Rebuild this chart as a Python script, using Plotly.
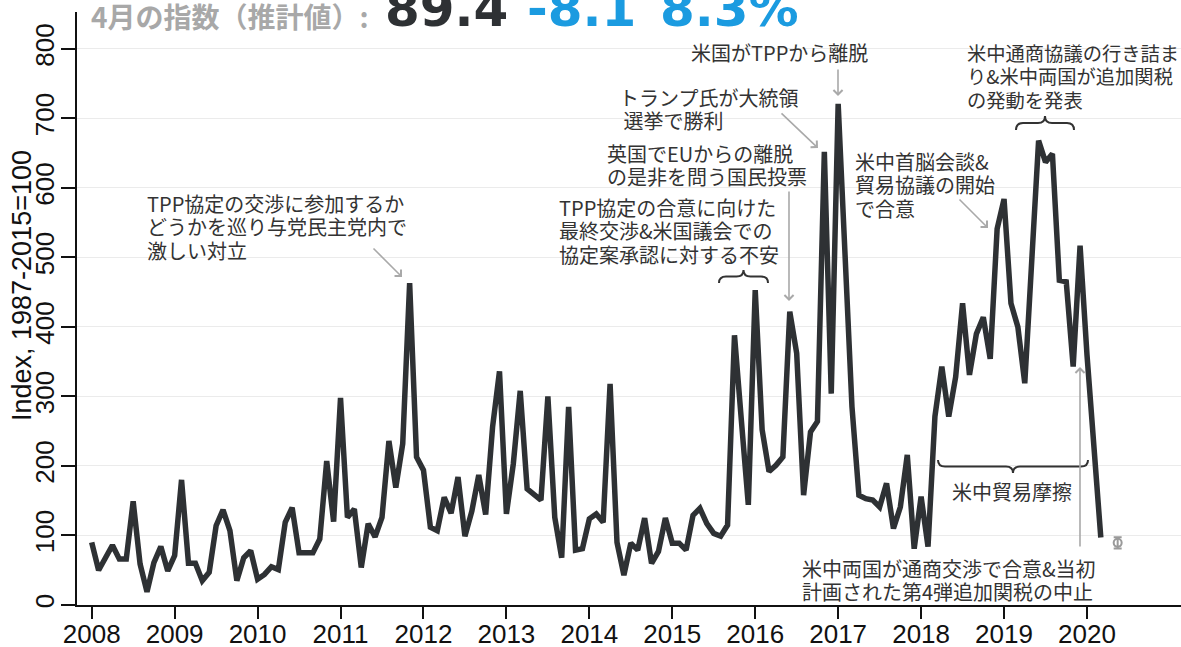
import plotly.graph_objects as go
import pandas as pd

# ---------------- data ----------------
months = pd.date_range("2008-01-01", "2020-03-01", freq="MS")
v2008 = [90, 50, 68, 86, 66, 66, 149, 59, 19, 61, 84, 49]
v2009 = [71, 180, 60, 60, 35, 47, 114, 137, 107, 35, 68, 78]
v2010 = [37, 44, 55, 51, 119, 140, 75, 75, 75, 95, 207, 120]
v2011 = [298, 126, 138, 54, 117, 98, 126, 236, 169, 232, 463, 213]
v2012 = [194, 112, 107, 155, 132, 184, 99, 135, 187, 130, 256, 336]
v2013 = [131, 203, 308, 167, 158, 151, 300, 126, 68, 285, 79, 81]
v2014 = [124, 131, 119, 318, 90, 43, 89, 79, 125, 60, 77, 125]
v2015 = [89, 89, 79, 129, 139, 117, 103, 99, 115, 388, 265, 144]
v2016 = [453, 252, 192, 201, 213, 422, 362, 158, 249, 264, 652, 304]
v2017 = [721, 490, 285, 158, 153, 151, 141, 175, 110, 141, 216, 81]
v2018 = [156, 84, 271, 343, 271, 328, 434, 331, 390, 414, 354, 541]
v2019 = [584, 434, 400, 319, 496, 668, 637, 649, 467, 465, 343, 517]
v2020 = [360, 225, 97]
index_values = v2008 + v2009 + v2010 + v2011 + v2012 + v2013 + v2014 + v2015 + v2016 + v2017 + v2018 + v2019 + v2020

x_years = list(months.year + (months.month - 1) / 12)

est_label = "4月の指数（推計値）:"
est_value = 89.4
est_err = 8.1
est_pct = "8.3%"
est_x = 2020.37

year_ticks = list(range(2008, 2021))
y_ticks = list(range(0, 801, 100))

# ---------------- layout helpers (screen pixel -> data / paper) ----------------
W, H = 1181, 647
ML, MR, MT, MB = 77, 0, 12, 42
PX_2008, PX_PER_YEAR = 91.7, 82.94
Y_TOP = 853.0
PX_PER_UNIT = (H - MT - MB) / Y_TOP
Y0 = H - MB


def xd(px):
    return 2008 + (px - PX_2008) / PX_PER_YEAR


def yd(py):
    return (Y0 - py) / PX_PER_UNIT


def xp(px):
    return (px - ML) / (W - ML - MR)


def yp(py):
    return 1 - (py - MT) / (H - MT - MB)


TXT = "#333333"
ARROW = "#a9a9a9"
FONT_JP = "Noto Sans CJK JP"
FONT_AX = "Liberation Sans, Arial, sans-serif"
FONT_BIG = "DejaVu Sans, sans-serif"
JP_SIZE = 20

fig = go.Figure()
fig.add_trace(go.Scatter(
    x=x_years, y=index_values, mode="lines",
    line=dict(color="#2e3134", width=5.5, shape="linear"),
    hoverinfo="skip", showlegend=False,
))
fig.add_trace(go.Scatter(
    x=[est_x], y=[est_value], mode="markers",
    marker=dict(symbol="circle-open", color="#9a9a9a", size=8, line=dict(width=2)),
    error_y=dict(type="constant", value=est_err, color="#9a9a9a", thickness=2, width=4),
    hoverinfo="skip", showlegend=False,
))

annotations = []


def text_lines(lines, px, py_first, spacing=23.7, xanchor="left", size=JP_SIZE):
    for i, line in enumerate(lines):
        annotations.append(dict(
            text=line, x=xd(px), y=yd(py_first + i * spacing), xref="x", yref="y",
            showarrow=False, xanchor=xanchor, yanchor="middle", align="left",
            height=23, valign="middle",
            font=dict(family=FONT_JP, size=size, color=TXT), borderpad=0,
        ))


def arrow_ann(px0, py0, px1, py1):
    annotations.append(dict(
        text="", x=xd(px1), y=yd(py1), ax=xd(px0), ay=yd(py0),
        xref="x", yref="y", axref="x", ayref="y", showarrow=True,
        arrowhead=4, arrowsize=1.1, arrowwidth=1.6, arrowcolor=ARROW, standoff=0,
    ))


text_lines(["TPP協定の交渉に参加するか", "どうかを巡り与党民主党内で", "激しい対立"], 146, 203)
arrow_ann(372, 247, 402, 277)

text_lines(["TPP協定の合意に向けた", "最終交渉&米国議会での", "協定案承認に対する不安"], 558, 207)

text_lines(["英国でEUからの離脱", "の是非を問う国民投票"], 606, 153)
arrow_ann(789, 190, 789, 301)

text_lines(["トランプ氏が大統領", " 選挙で勝利"], 618, 97)
arrow_ann(780, 112, 818, 148)

text_lines(["米国がTPPから離脱"], 779, 52, xanchor="center")
arrow_ann(838, 68, 838, 96)

text_lines(["米中首脳会談&", "貿易協議の開始", "で合意"], 854, 161)
arrow_ann(958, 198, 988, 228)

text_lines(["米中通商協議の行き詰ま", "り&米中両国が追加関税", "の発動を発表"], 966, 52, size=19.3)

text_lines(["米中貿易摩擦"], 1012, 491, xanchor="center")

text_lines(["米中両国が通商交渉で合意&当初", "計画された第4弾追加関税の中止"], 801, 568)
arrow_ann(1080, 548, 1080, 367)

# title pieces
annotations.append(dict(text="<b>" + est_label + "</b>", x=xp(89), y=yp(16), xref="paper", yref="paper",
                        xanchor="left", yanchor="middle", showarrow=False,
                        font=dict(family=FONT_JP, size=28, color="#a8a8a8")))
BIG_Y = 9.5
BIG_SIZE = 50
annotations.append(dict(text="<b>%.1f</b>" % est_value, x=xp(383), y=yp(BIG_Y), xref="paper", yref="paper",
                        xanchor="left", yanchor="middle", showarrow=False,
                        font=dict(family=FONT_BIG, size=BIG_SIZE, color="#2e3134")))
annotations.append(dict(text="<b>-%.1f</b>" % est_err, x=xp(525), y=yp(BIG_Y), xref="paper", yref="paper",
                        xanchor="left", yanchor="middle", showarrow=False,
                        font=dict(family=FONT_BIG, size=BIG_SIZE, color="#1b9be0")))
annotations.append(dict(text="<b>" + est_pct + "</b>", x=xp(658), y=yp(BIG_Y), xref="paper", yref="paper",
                        xanchor="left", yanchor="middle", showarrow=False,
                        font=dict(family=FONT_BIG, size=BIG_SIZE, color="#1b9be0")))
# y title
annotations.append(dict(text="Index, 1987-2015=100", x=xp(22), y=yp(286), xref="paper", yref="paper",
                        xanchor="center", yanchor="middle", textangle=-90, showarrow=False,
                        font=dict(family=FONT_AX, size=27, color="#111111")))


def brace(px0, px1, py_end, py_tip, r=7):
    pm = (py_end + py_tip) / 2
    xm = (px0 + px1) / 2
    pts = [
        ("M", [(px0, py_end)]),
        ("Q", [(px0, pm), (px0 + r, pm)]),
        ("L", [(xm - r, pm)]),
        ("Q", [(xm, pm), (xm, py_tip)]),
        ("Q", [(xm, pm), (xm + r, pm)]),
        ("L", [(px1 - r, pm)]),
        ("Q", [(px1, pm), (px1, py_end)]),
    ]
    s = ""
    for cmd, ps in pts:
        s += cmd + " " + " ".join("%.5f,%.5f" % (xd(a), yd(b)) for a, b in ps) + " "
    return dict(type="path", path=s.strip(), xref="x", yref="y",
                line=dict(color="#333333", width=2))


shapes = [
    brace(719, 768, 283, 270),
    brace(1016, 1074, 130, 116),
    brace(938, 1088, 460, 473),
]

fig.update_layout(
    width=W, height=H,
    margin=dict(l=ML, r=MR, t=MT, b=MB, autoexpand=False),
    paper_bgcolor="white", plot_bgcolor="white",
    showlegend=False,
    annotations=annotations,
    shapes=shapes,
    xaxis=dict(
        range=[xd(ML), xd(W - MR)], tickmode="array", tickvals=year_ticks,
        ticktext=[str(y) for y in year_ticks],
        showgrid=False, zeroline=False, showline=True, linecolor="#111111", linewidth=2,
        ticks="outside", ticklen=12, tickwidth=1.5, tickcolor="#111111",
        ticklabelstandoff=-7,
        tickfont=dict(family=FONT_AX, size=26, color="#111111"),
    ),
    yaxis=dict(
        range=[0, Y_TOP], tickmode="array", tickvals=y_ticks,
        showgrid=True, gridcolor="#ebebeb", gridwidth=1, zeroline=False,
        showline=True, linecolor="#111111", linewidth=2,
        ticks="outside", ticklen=14, tickwidth=1.5, tickcolor="#111111",
        tickangle=-90, ticklabelstandoff=-3,
        tickfont=dict(family=FONT_AX, size=26, color="#111111"),
    ),
)

# remove the default page margin so the figure sits at the window's top-left corner
fig.write_html(
    "out.html",
    config={"displayModeBar": False},
    post_script="document.body.style.margin='0';document.body.style.overflow='hidden';",
)
